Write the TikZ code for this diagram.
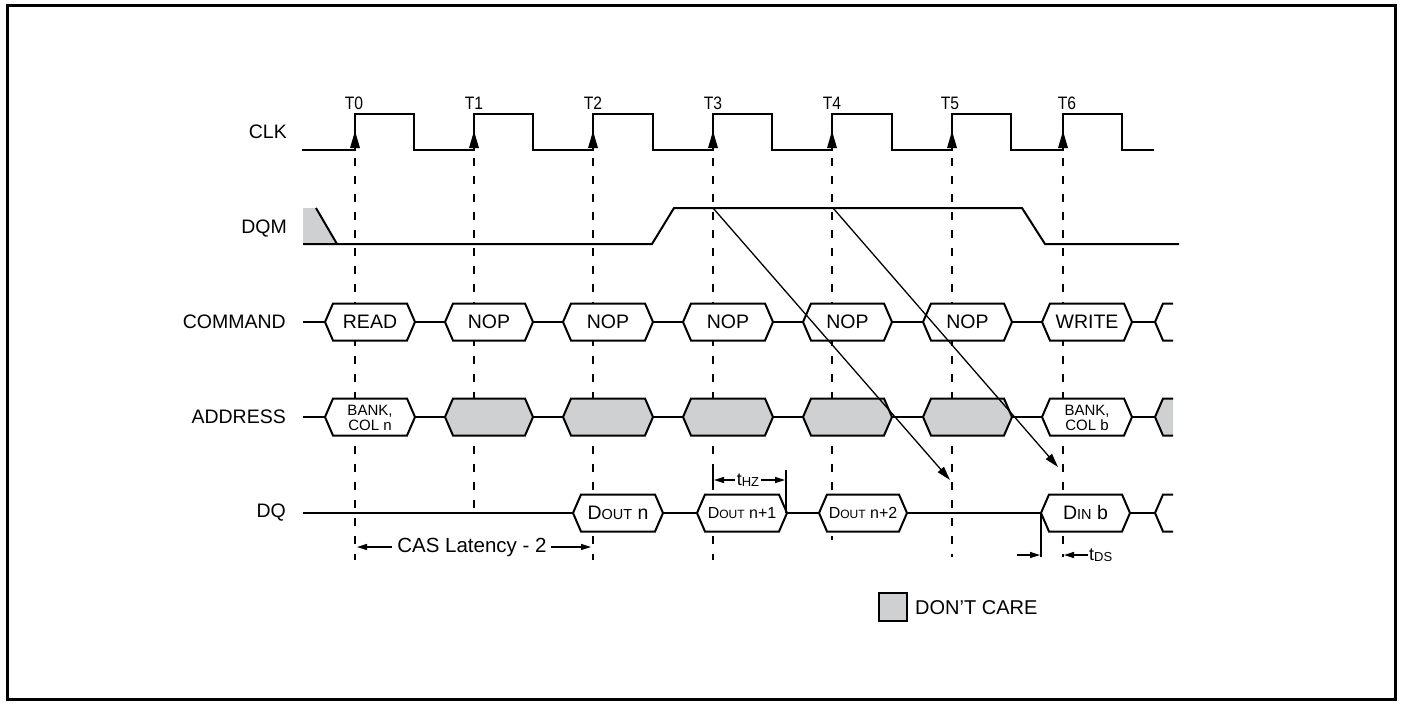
\documentclass[tikz,border=0pt]{standalone}
\usepackage{fontspec}
\setmainfont{Liberation Sans}
\newfontfamily\narrowfont[FakeStretch=0.87]{Liberation Sans}
\usetikzlibrary{arrows.meta}
\definecolor{dcgrey}{RGB}{206,208,210}
\tikzset{
  sig/.style={line width=2pt, line join=miter},
  hexb/.style={line width=2pt, fill=white, line join=miter},
  hexg/.style={hexb, fill=dcgrey},
  guide/.style={line width=1.4pt, dash pattern=on 8pt off 10pt},
  lbl/.style={anchor=east, inner sep=0pt, font=\fontsize{19.5}{22}\selectfont},
  txt/.style={inner sep=0pt, font=\fontsize{19.5}{22}\selectfont},
  smalltxt/.style={inner sep=0pt, font=\fontsize{15}{15.5}\selectfont, align=center},
  tlab/.style={inner sep=0pt, font=\narrowfont\fontsize{18}{20}\selectfont},
  diag/.style={line width=1.3pt, -{Triangle[length=14pt,width=8pt]}},
  dimarrow/.style={line width=1.3pt, -{Triangle[length=10pt,width=6pt]}},
  frame/.style={line width=3pt},
}
\newcommand\hexpath[4]{%
  \draw[#4] (#1,#3) -- (#1+8,#3-18.5) -- (#2-8,#3-18.5) -- (#2,#3) -- (#2-8,#3+18.5) -- (#1+8,#3+18.5) -- cycle;}
\newcommand\hexstub[3]{%
  \fill[#3] (#1,#2) -- (#1+8,#2-18.5) -- (#1+18,#2-18.5) -- (#1+18,#2+18.5) -- (#1+8,#2+18.5) -- cycle;
  \draw[sig] (#1+18,#2-18.5) -- (#1+8,#2-18.5) -- (#1,#2) -- (#1+8,#2+18.5) -- (#1+18,#2+18.5);}
\begin{document}
\begin{tikzpicture}[x=1pt,y=-1pt]
\useasboundingbox (0,0) rectangle (1404,704);
\draw[frame] (7,5) rectangle (1395,699);

% ---------- labels ----------
\node[lbl] (lclk) at (287,132) {CLK};
\node[lbl] (ldqm) at (287,229) {DQM};
\node[lbl] (lcmd) at (286,322) {COMMAND};
\node[lbl] (laddr) at (286,417) {ADDRESS};
\node[lbl] (ldq) at (286,513) {DQ};

% ---------- guide lines ----------
\draw[guide] (355,158) -- (355,560);
\draw[guide] (474,158) -- (474,512);
\draw[guide] (593,158) -- (593,560);
\draw[guide] (713,158) -- (713,560);
\draw[guide] (832,158) -- (832,540);
\draw[guide] (952,158) -- (952,557);
\draw[guide] (1063,158) -- (1063,557);

% ---------- CLK ----------
\draw[sig] (302,150) -- (355,150) -- (355,114) -- (414,114) -- (414,150)
  -- (474,150) -- (474,114) -- (533,114) -- (533,150)
  -- (593,150) -- (593,114) -- (653,114) -- (653,150)
  -- (713,150) -- (713,114) -- (772,114) -- (772,150)
  -- (832,150) -- (832,114) -- (892,114) -- (892,150)
  -- (952,150) -- (952,114) -- (1011,114) -- (1011,150)
  -- (1063,150) -- (1063,114) -- (1122,114) -- (1122,150) -- (1154,150);
\foreach \x in {355,474,593,713,832,952,1063}{
  \fill (\x-5,148) -- (\x+5,148) -- (\x,131) -- cycle;}
\node[tlab] (t0) at (354,103) {T0};
\node[tlab] (t1) at (474,103) {T1};
\node[tlab] (t2) at (593,103) {T2};
\node[tlab] (t3) at (713,103) {T3};
\node[tlab] (t4) at (832,103) {T4};
\node[tlab] (t5) at (950,103) {T5};
\node[tlab] (t6) at (1067,103) {T6};

% ---------- DQM ----------
\fill[dcgrey] (303,208) -- (316,208) -- (337,244) -- (303,244) -- cycle;
\draw[sig] (316,208) -- (337,244);
\draw[sig] (303,244) -- (652,244) -- (674,208) -- (1022,208) -- (1045,244) -- (1179,244);
\coordinate (dqmA) at (713,208);
\coordinate (dqmB) at (833,208);
\coordinate (tipA) at (950,480);
\coordinate (tipB) at (1058,467);

% ---------- COMMAND ----------
\draw[sig] (303,322) -- (1155,322);
\hexpath{325}{415}{322}{hexb}
\hexpath{445}{533}{322}{hexb}
\hexpath{563}{653}{322}{hexb}
\hexpath{683}{773}{322}{hexb}
\hexpath{803}{892}{322}{hexb}
\hexpath{923}{1012}{322}{hexb}
\hexpath{1042}{1132}{322}{hexb}
\hexstub{1155}{322}{white}
\node[txt] (cread) at (370,322) {READ};
\node[txt] (cnop1) at (489,322) {NOP};
\node[txt] (cnop2) at (608,322) {NOP};
\node[txt] (cnop3) at (728,322) {NOP};
\node[txt] (cnop4) at (847.5,322) {NOP};
\node[txt] (cnop5) at (967.5,322) {NOP};
\node[txt] (cwrite) at (1087,322) {WRITE};

% ---------- ADDRESS ----------
\draw[sig] (303,417) -- (1155,417);
\hexpath{325}{415}{417}{hexb}
\hexpath{445}{533}{417}{hexg}
\hexpath{563}{653}{417}{hexg}
\hexpath{683}{773}{417}{hexg}
\hexpath{803}{892}{417}{hexg}
\hexpath{923}{1012}{417}{hexg}
\hexpath{1042}{1132}{417}{hexb}
\hexstub{1155}{417}{dcgrey}
\node[smalltxt] (abankn) at (370,418) {BANK,\\COL n};
\node[smalltxt] (abankb) at (1087,418) {BANK,\\COL b};

% ---------- DQ ----------
\draw[sig] (303,513) -- (1155,513);
\hexpath{573}{663}{513}{hexb}
\hexpath{697}{787}{513}{hexb}
\hexpath{819}{907}{513}{hexb}
\hexpath{1041}{1130}{513}{hexb}
\hexstub{1155}{513}{white}
\node[txt] (dqn) at (618,513) {D{\fontsize{14.5}{16}\selectfont OUT} n};
\node[inner sep=0pt, font=\fontsize{16}{18}\selectfont] (dqn1) at (742,513) {D{\fontsize{12}{14}\selectfont OUT} n+1};
\node[inner sep=0pt, font=\fontsize{16}{18}\selectfont] (dqn2) at (863,513) {D{\fontsize{12}{14}\selectfont OUT} n+2};
\node[txt] (dinb) at (1085.5,513) {D{\fontsize{14.5}{16}\selectfont IN} b};

% ---------- tHZ ----------
\draw[line width=1.3pt] (713,471) -- (713,489);
\draw[line width=1.3pt] (786,470) -- (786,513);
\node[inner sep=0pt, font=\fontsize{18}{20}\selectfont] (thz) at (748,480) {t\raisebox{-1.5pt}{\fontsize{13}{15}\selectfont HZ}};
\draw[dimarrow] (thz.west) ++(-2,0) -- (714,480);
\draw[dimarrow] (thz.east) ++(2,0) -- (785,480);

% ---------- CAS latency ----------
\node[inner sep=0pt, font=\fontsize{20.5}{23}\selectfont] (cas) at (472,547) {CAS Latency - 2};
\draw[dimarrow] (cas.west) ++(-5,0) -- (357,547);
\draw[dimarrow] (cas.east) ++(4,0) -- (591,547);

% ---------- tDS ----------
\draw[line width=1.3pt] (1041,513) -- (1041,557);
\draw[dimarrow] (1017,555) -- (1040,555);
\node[inner sep=0pt, anchor=west, font=\fontsize{18}{20}\selectfont] (tds) at (1089,555) {t\raisebox{-1.5pt}{\fontsize{13}{15}\selectfont DS}};
\draw[dimarrow] (tds.west) ++(-1,0) -- (1064,555);

% ---------- DQM to DQ arrows ----------
\draw[diag] (dqmA) -- (tipA);
\draw[diag] (dqmB) -- (tipB);

% ---------- legend ----------
\draw[line width=2pt, fill=dcgrey] (879,593) rectangle (907,621);
\node[inner sep=0pt, anchor=west, font=\fontsize{20}{22}\selectfont] (dcare) at (915,608) {DON'T CARE};
\end{tikzpicture}
\end{document}
